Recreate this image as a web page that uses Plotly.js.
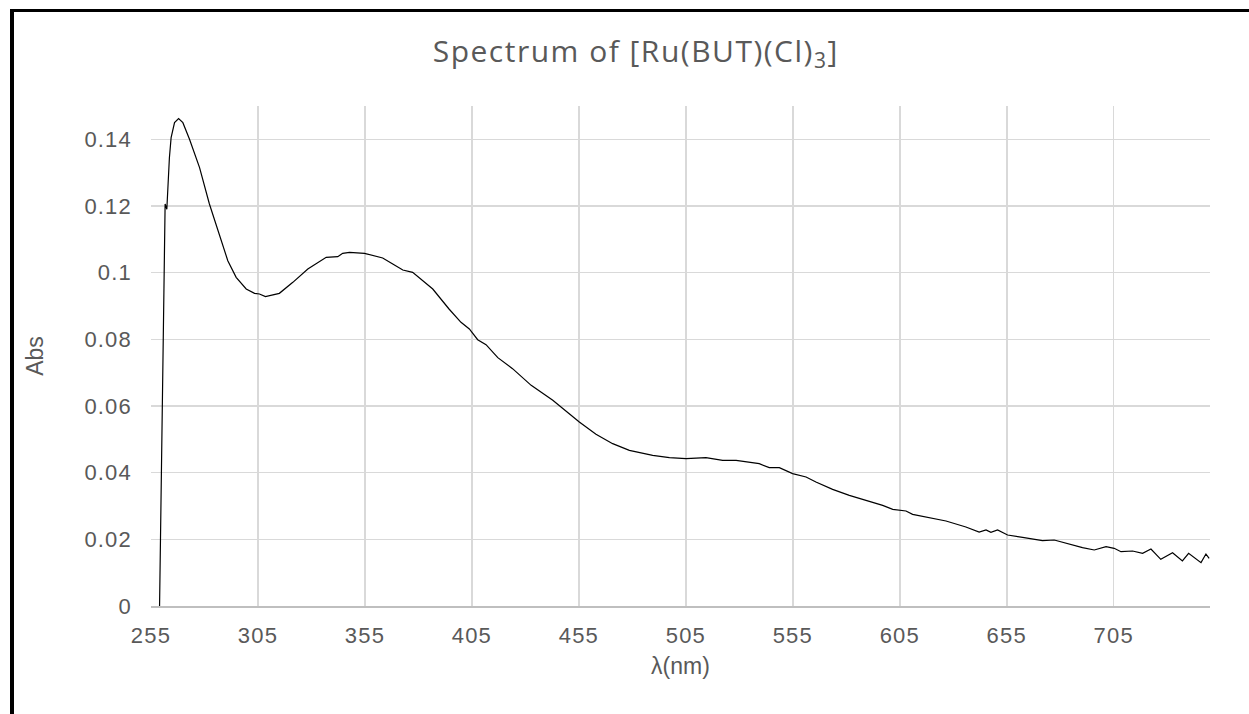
<!DOCTYPE html>
<html>
<head>
<meta charset="utf-8">
<script src="https://cdn.plot.ly/plotly-3.0.1.min.js"></script>
<style>
  html, body { margin: 0; padding: 0; background: #fff; overflow: hidden; }
  #chart { width: 1249px; height: 714px; }
  #frame { position: absolute; left: 10px; top: 9px; width: 2000px; height: 2000px;
           border-left: 4px solid #000; border-top: 3px solid #000; pointer-events: none; }
  #chart .gtitle { letter-spacing: 1.5px; }
  #chart .xtick text, #chart .ytick text { letter-spacing: 1.2px; }
</style>
</head>
<body>
<div id="chart"></div>
<div id="frame"></div>
<script>
// Wavelength (nm)
const wavelength = [259, 261.6, 262.4, 262.9, 263.6, 264.4, 266, 267.9, 269.9, 273, 277.7, 282.3, 287,
  290.9, 294.8, 299.5, 303.4, 305.7, 308.5, 315, 321.3, 328.3, 336.9, 342.3, 344.6, 347.8, 354.8,
  359.4, 363.3, 368, 372.7, 377.3, 382, 386.7, 394.3, 399.9, 403.8, 407.7, 411.6, 417.1, 424, 432.7,
  442.8, 447.4, 455.2, 463, 470.8, 478.6, 489.5, 497.3, 505.1, 514.4, 522.2, 528.5, 539.3, 544,
  548.7, 554.9, 561.2, 565.8, 573.6, 581.4, 589.2, 597, 601.7, 607.9, 611, 617.2, 626.6, 635.9,
  642.1, 645.3, 647.6, 650.7, 655.4, 662.4, 671.7, 677.2, 684.2, 690.4, 695.9, 701.4, 705.2, 708.4,
  713.8, 718.5, 722.4, 727, 732.5, 737.1, 740, 745.8, 748.1, 749.6];
// Absorbance
const absorbance = [0, 0.1206, 0.119, 0.1266, 0.1345, 0.1405, 0.145, 0.1462, 0.145, 0.140, 0.1315, 0.1206, 0.1116,
  0.1036, 0.0986, 0.0951, 0.0938, 0.0936, 0.0928, 0.0938, 0.0971, 0.1011, 0.1046, 0.1048, 0.1058, 0.1061, 0.1058,
  0.1051, 0.1044, 0.1026, 0.1008, 0.1001, 0.0976, 0.0951, 0.0891, 0.0851, 0.0831, 0.0799, 0.0784, 0.0745, 0.0712, 0.0662,
  0.0617, 0.0592, 0.0552, 0.0515, 0.0487, 0.0467, 0.0452, 0.0445, 0.0442, 0.0445, 0.0437, 0.0437, 0.0427, 0.0415,
  0.0415, 0.0397, 0.0387, 0.0372, 0.035, 0.0332, 0.0317, 0.0302, 0.029, 0.0285, 0.0275, 0.0267, 0.0255, 0.0237,
  0.0222, 0.0228, 0.0221, 0.0228, 0.0213, 0.0206, 0.0196, 0.0198, 0.0186, 0.0175, 0.0168, 0.0178, 0.0173, 0.0163,
  0.0165, 0.0158, 0.0171, 0.014, 0.016, 0.0135, 0.0158, 0.013, 0.0156, 0.0143];

const xTickVals = [255, 305, 355, 405, 455, 505, 555, 605, 655, 705];
const xTickText = ["255", "305", "355", "405", "455", "505", "555", "605", "655", "705"];
const yTickVals = [0, 0.02, 0.04, 0.06, 0.08, 0.1, 0.12, 0.14];
const yTickText = ["0", "0.02", "0.04", "0.06", "0.08", "0.1", "0.12", "0.14"];

const trace = {
  x: wavelength, y: absorbance, type: 'scatter', mode: 'lines',
  line: { color: '#000000', width: 1.2 }, hoverinfo: 'skip'
};

const tickFont = { family: 'Liberation Sans, Arial, sans-serif', size: 22, color: '#595959' };
const axisTitleFont = { family: 'Liberation Sans, Arial, sans-serif', size: 23, color: '#595959' };

const layout = {
  width: 1249, height: 714,
  margin: { l: 151, r: 39, t: 106, b: 108 },
  paper_bgcolor: '#ffffff', plot_bgcolor: '#ffffff',
  showlegend: false,
  title: {
    text: 'Spectrum of [Ru(BUT)(Cl)<sub>3</sub>]',
    font: { family: 'Open Sans, Lato, sans-serif', size: 30, color: '#595959' },
    x: 0.509, xanchor: 'center', xref: 'container',
    y: 0.928, yanchor: 'middle', yref: 'container'
  },
  xaxis: {
    range: [255, 750], tickvals: xTickVals, ticktext: xTickText,
    showgrid: true, gridcolor: '#d9d9d9', gridwidth: 1.5,
    showline: true, linecolor: '#bfbfbf', linewidth: 1.5,
    zeroline: false, ticks: '', ticklabelstandoff: 9,
    tickfont: tickFont,
    title: { text: 'λ(nm)', font: axisTitleFont, standoff: 11 }
  },
  yaxis: {
    range: [0, 0.15], tickvals: yTickVals, ticktext: yTickText,
    showgrid: true, gridcolor: '#d9d9d9', gridwidth: 1.5,
    showline: false, zeroline: false, ticks: '', ticklabelstandoff: 18,
    tickfont: tickFont,
    title: { text: 'Abs', font: axisTitleFont, standoff: 39 }
  }
};

Plotly.newPlot('chart', [trace], layout, { staticPlot: true, displayModeBar: false });
</script>
</body>
</html>
